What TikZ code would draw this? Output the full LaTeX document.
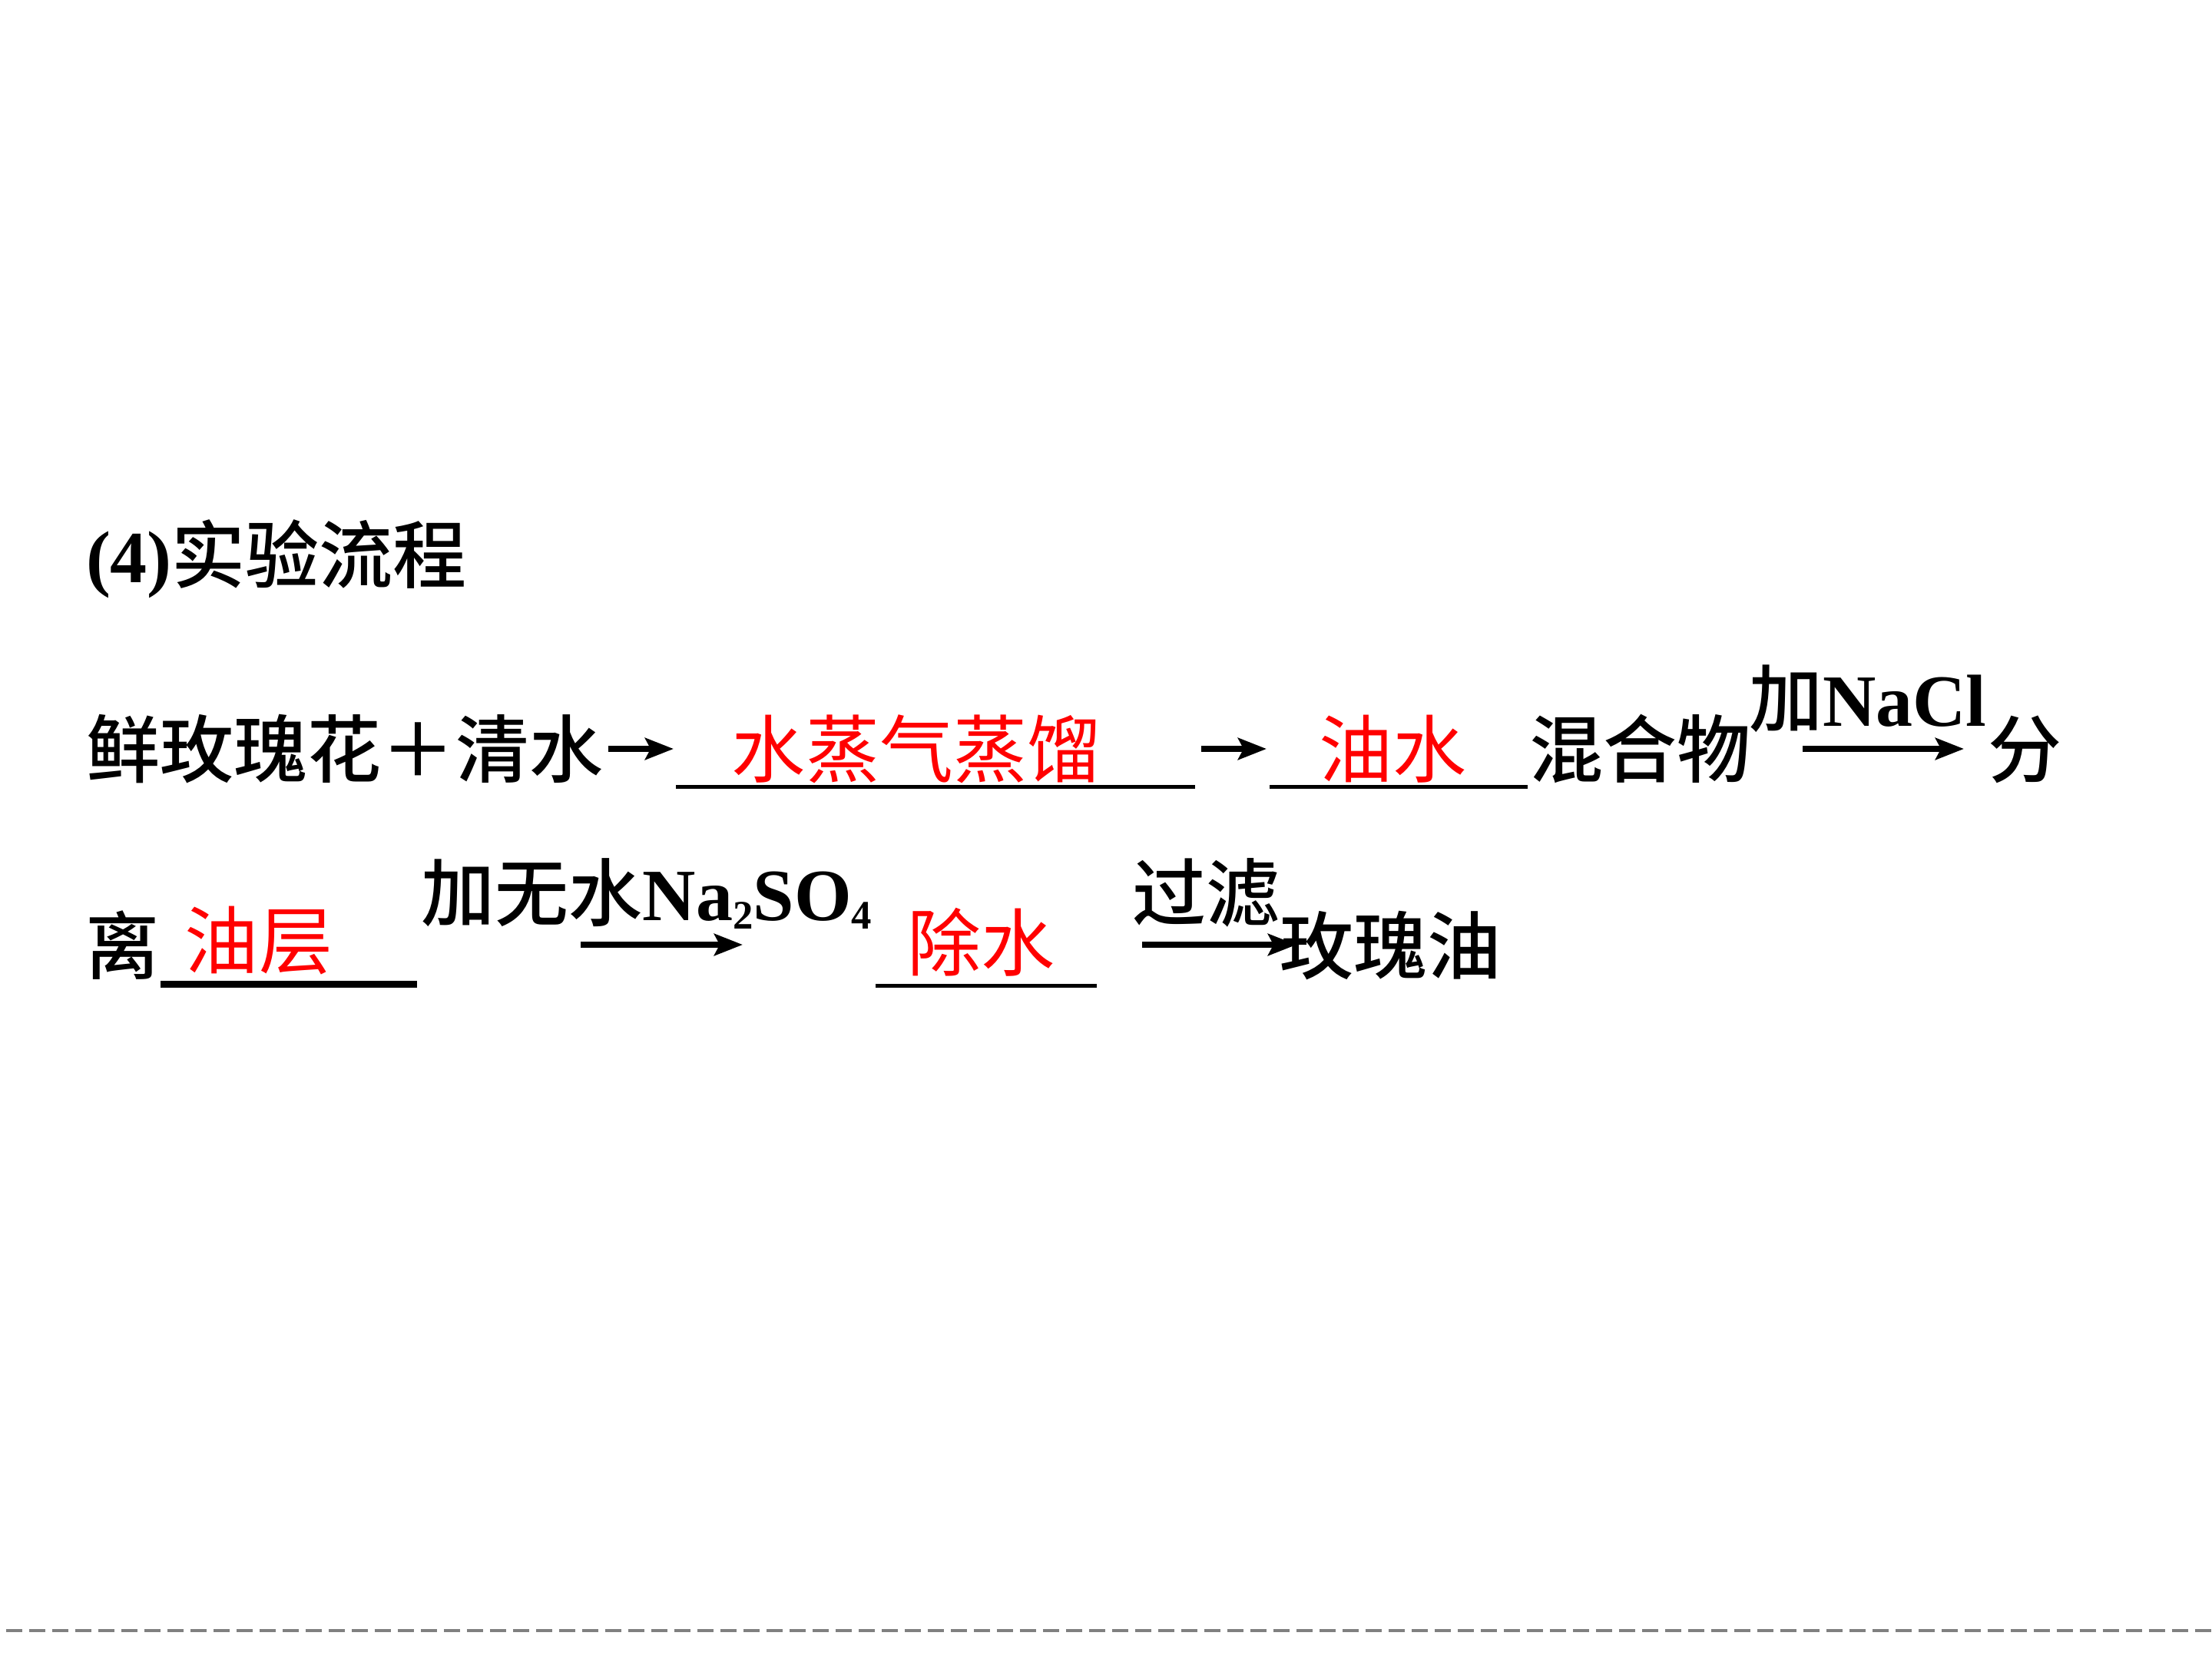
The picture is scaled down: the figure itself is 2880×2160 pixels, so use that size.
\documentclass[tikz,border=0pt]{standalone}
\usepackage{fontspec}
\setmainfont{Liberation Serif}
\newfontfamily\cjkfont{Noto Sans CJK SC}
\newfontfamily\cjkmed{Noto Sans CJK SC Medium}
\usetikzlibrary{arrows.meta}
\definecolor{ansred}{RGB}{255,0,0}
\definecolor{dashgray}{RGB}{128,128,128}
\newcommand\ZHB[1]{{\cjkmed #1}}
\newcommand\ZHR[1]{{\cjkfont\color{ansred}#1}}
\newcommand\LATB[1]{{\bfseries #1}}
\newcommand\SUBS[1]{\raisebox{-3.4pt}{\fontsize{15}{15}\selectfont\bfseries #1}}
\begin{document}
\begin{tikzpicture}[x=0.01cm,y=-0.01cm,
  txt/.style={inner sep=0pt, outer sep=0pt, anchor=base, font=\fontsize{27.3}{30}\selectfont},
  blank/.style={line width=1.42pt, black},
  blankthick/.style={line width=2.56pt, black},
  rxn/.style={line width=2.2pt, black, -{Stealth[length=10.5pt,width=8pt,inset=2pt]}},
  sep/.style={dashgray, line width=1.14pt, dash pattern=on 5.97pt off 2.56pt}
]
\useasboundingbox (0,0) rectangle (2880,2160);

% title
\node[txt] (title) at (360,758) {\LATB{(4)}\ZHB{实验流程}};

% line 1
\node[txt] (start) at (449,1011) {\ZHB{鲜玫瑰花＋清水}};
\coordinate (a1s) at (792,975);
\coordinate (a1e) at (877,975);
\draw[rxn] (a1s) -- (a1e);
\coordinate (u1a) at (880,1024);
\coordinate (u1b) at (1556,1024);
\draw[blank] (u1a) -- (u1b);
\node[txt] (ans1) at (1193,1011) {\ZHR{水蒸气蒸馏}};
\coordinate (a2s) at (1564,975);
\coordinate (a2e) at (1649,975);
\draw[rxn] (a2s) -- (a2e);
\coordinate (u2a) at (1653,1024);
\coordinate (u2b) at (1989,1024);
\draw[blank] (u2a) -- (u2b);
\node[txt] (ans2) at (1813,1011) {\ZHR{油水}};
\node[txt] (mix) at (2135,1011) {\ZHB{混合物}};
\node[txt] (nacl) at (2432,945) {\ZHB{加}\LATB{NaCl}};
\coordinate (a3s) at (2347,975);
\coordinate (a3e) at (2557,975);
\draw[rxn] (a3s) -- (a3e);
\node[txt] (fen) at (2636,1011) {\ZHB{分}};

% line 2
\node[txt] (li) at (160,1267) {\ZHB{离}};
\coordinate (u3a) at (209,1281);
\coordinate (u3b) at (543,1281);
\draw[blankthick] (u3a) -- (u3b);
\node[txt] (ans3) at (337,1260) {\ZHR{油层}};
\node[txt] (na2so4) at (842,1198) {\ZHB{加无水}\LATB{Na}\SUBS{2}\LATB{SO}\SUBS{4}};
\coordinate (a4s) at (756,1230);
\coordinate (a4e) at (967,1230);
\draw[rxn] (a4s) -- (a4e);
\coordinate (u4a) at (1140,1283);
\coordinate (u4b) at (1428,1283);
\draw[blank] (u4a) -- (u4b);
\node[txt] (ans4) at (1277,1263) {\ZHR{除水}};
\node[txt] (filt) at (1570,1198) {\ZHB{过滤}};
\coordinate (a5s) at (1487,1230);
\coordinate (a5e) at (1688,1230);
\draw[rxn] (a5s) -- (a5e);
\node[txt] (oil) at (1810,1267) {\ZHB{玫瑰油}};

% bottom dashed separator
\coordinate (dl) at (8,2123);
\coordinate (dr) at (2880,2123);
\draw[sep] (dl) -- (dr);
\end{tikzpicture}
\end{document}
